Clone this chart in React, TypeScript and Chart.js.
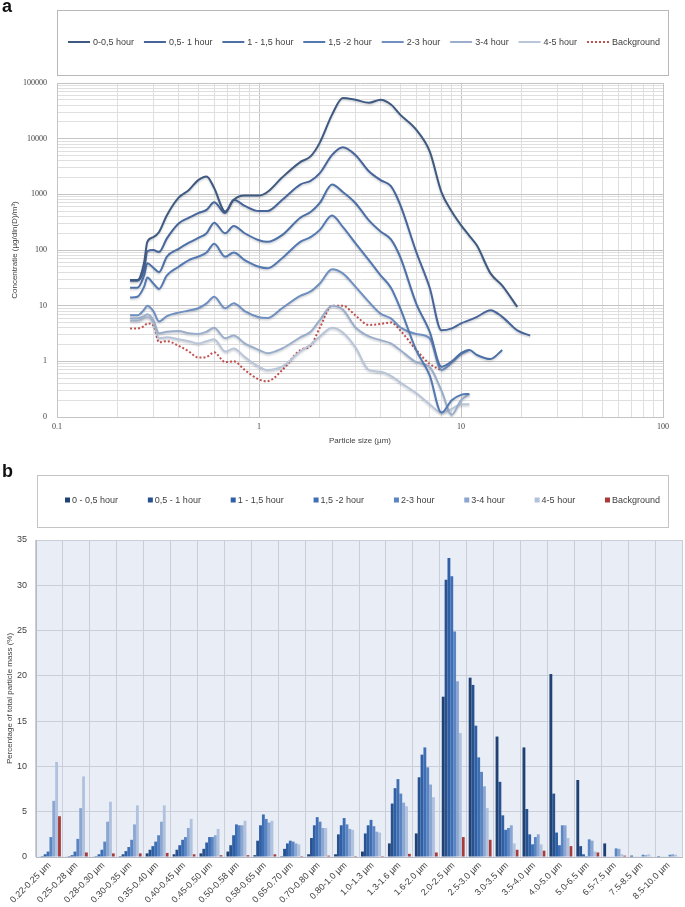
import React, { useEffect, useRef } from 'react';
import { Chart, registerables } from 'chart.js';
Chart.register(...registerables);

// ---------- Chart a: particle size distributions (log-log) ----------
const SIZES = [0.23, 0.25, 0.27, 0.28, 0.30, 0.32, 0.35, 0.40, 0.45, 0.50, 0.55, 0.60, 0.68, 0.75, 0.85, 1.0, 1.1, 1.3, 1.6, 1.8, 2.0, 2.3, 2.6, 3.0, 3.5, 4.0, 4.5, 5.0, 6.0, 7.0, 8.0, 9.0, 10, 11, 12, 14, 16, 19, 22];

const conc0to05 = [29, 29, 60, 140, 170, 210, 420, 870, 1200, 1800, 2100, 1300, 490, 800, 950, 950, 1100, 2000, 3800, 4800, 8500, 27000, 54000, 50000, 44000, 50000, 41000, 27000, 14500, 5900, 1100, 490, 280, 180, 120, 38, 23, 9.5, null];
const conc05to1 = [28, 28, 45, 95, 100, 92, 162, 300, 380, 460, 525, 720, 460, 800, 620, 500, 500, 790, 1500, 1750, 2400, 5100, 7000, 5100, 2600, 1800, 1400, 650, 93, 21, 3.6, 3.9, 4.8, 5.5, 6.3, 8.3, 6.3, 3.6, 2.9];
const conc1to15 = [21, 21, 35, 58, 48, 40, 76, 105, 135, 165, 200, 310, 200, 270, 200, 150, 140, 185, 380, 480, 700, 1500, 1100, 700, 340, 215, 155, 75, 11, 3.4, 0.8, 1.0, 1.4, 1.6, 1.3, 1.1, 1.6, null, null];
const conc15to2 = [14, 14.5, 22, 32, 25, 20, 35, 50, 66, 76, 90, 130, 76, 90, 66, 50, 47, 71, 140, 170, 230, 415, 260, 133, 66, 35, 21, 9, 1.6, 0.56, 0.12, 0.2, 0.25, 0.26, null, null, null, null, null];
const conc2to3 = [6.7, 6.7, 8.5, 10, 8, 5.2, 6.5, 7.5, 8.2, 9, 11, 14.5, 9, 11, 8, 6.2, 6, 9, 15, 18, 25, 45, 38, 22, 11.7, 7.2, 5.9, 4.1, 3.1, 2.6, 0.7, 0.95, 1.35, 1.6, null, null, null, null, null];
const conc3to4 = [5.9, 5.9, 6.5, 7, 5.5, 3.2, 3.4, 3.5, 3.2, 3.1, 3.4, 4.0, 2.6, 2.9, 2.1, 1.6, 1.4, 1.7, 2.7, 3.4, 5.5, 10, 8.5, 4.1, 2.8, 2.4, 2.1, 1.6, 0.97, 0.79, 0.3, 0.11, 0.2, 0.26, null, null, null, null, null];
const conc4to5 = [5.3, 5.3, 6, 6.2, 5, 2.6, 2.7, 2.5, 2.3, 2.1, 2.3, 2.5, 1.5, 1.7, 1.2, 0.8, 0.7, 0.8, 1.5, 2.0, 2.8, 4.0, 3.3, 1.8, 0.7, 0.65, 0.55, 0.42, 0.27, 0.17, 0.12, 0.14, 0.17, 0.17, null, null, null, null, null];
const concBackground = [3.9, 3.9, 4.3, 4.8, 4.4, 2.2, 2.3, 1.9, 1.5, 1.17, 1.2, 1.45, 0.97, 1.0, 0.7, 0.47, 0.44, 0.69, 1.6, 1.9, 4.0, 10, 10, 6.7, 4.5, 4.7, 5.0, 3.6, 1.6, 0.9, 0.69, null, null, null, null, null, null, null, null];

const LINE_LABELS = ['0-0,5 hour', '0,5- 1 hour', '1 - 1,5 hour', '1,5 -2 hour', '2-3 hour', '3-4 hour', '4-5 hour', 'Background'];
const LINE_COLORS = ['#3f5a80', '#47659a', '#4d70a7', '#5479b2', '#6f8fc0', '#9aaecb', '#b9c5d8', '#c0504d'];
const Y_LABELS_A = [0.1, 1, 10, 100, 1000, 10000, 100000];
const X_LABELS_A = [0.1, 1, 10, 100];

// ---------- Chart b: percentage of total particle mass ----------
const CATEGORIES = ['0.22-0.25 µm', '0.25-0.28 µm', '0.28-0.30 µm', '0.30-0.35 µm', '0.35-0.40 µm', '0.40-0.45 µm', '0.45-0.50 µm', '0.50-0.58 µm', '0.58-0.65 µm', '0.65-0.70 µm', '0.70-0.80 µm', '0.80-1.0 µm', '1.0-1.3 µm', '1.3-1.6 µm', '1.6-2.0 µm', '2.0-2.5 µm', '2.5-3.0 µm', '3.0-3.5 µm', '3.5-4.0 µm', '4.0-5.0 µm', '5.0-6.5 µm', '6.5-7.5 µm', '7.5-8.5 µm', '8.5-10.0 µm'];

const pct0to05 = [0.05, 0.05, 0.05, 0.1, 0.4, 0.3, 0.4, 0.6, 0.2, 0.1, 0.3, 0.3, 0.6, 1.5, 2.6, 17.7, 19.8, 13.3, 12.1, 20.2, 8.5, 1.5, 0.15, 0.1];
const pct05to1 = [0.1, 0.1, 0.1, 0.3, 0.8, 0.8, 0.9, 1.3, 1.8, 0.9, 2.1, 2.5, 2.6, 5.9, 8.8, 30.6, 19.0, 8.3, 5.3, 7.0, 1.2, 0.05, 0.05, 0.05];
const pct1to15 = [0.3, 0.2, 0.3, 0.65, 1.2, 1.3, 1.6, 2.4, 3.5, 1.5, 3.5, 3.5, 3.5, 7.6, 11.3, 33.0, 14.5, 4.6, 2.5, 2.7, 0.3, 0.05, 0.05, 0.05];
const pct15to2 = [0.6, 0.6, 0.8, 1.1, 1.7, 1.9, 2.2, 3.6, 4.7, 1.8, 4.4, 4.3, 4.1, 8.6, 12.1, 31.0, 11.0, 3.0, 1.4, 1.3, 0.1, 0.05, 0.05, 0.05];
const pct2to3 = [2.2, 2.0, 1.7, 1.9, 2.4, 2.2, 2.2, 3.5, 4.2, 1.7, 3.9, 3.6, 3.4, 7.0, 9.9, 24.9, 9.4, 3.2, 2.2, 3.5, 1.95, 0.95, 0.25, 0.25];
const pct3to4 = [6.2, 5.4, 3.9, 3.6, 3.9, 3.2, 2.4, 3.5, 3.8, 1.5, 3.2, 3.1, 2.8, 6.0, 8.0, 19.4, 7.8, 3.5, 2.5, 3.5, 1.8, 0.9, 0.2, 0.3];
const pct4to5 = [10.5, 8.9, 6.1, 5.7, 5.7, 4.2, 3.1, 4.0, 4.0, 1.4, 3.2, 3.0, 2.7, 5.6, 6.6, 13.7, 5.4, 1.5, 1.4, 2.1, 0.6, 0.3, 0.3, 0.25];
const pctBackground = [4.5, 0.5, 0.4, 0.4, 0.45, 0.3, 0.2, 0.2, 0.3, 0.1, 0.15, 0.1, 0.1, 0.35, 0.5, 2.2, 1.9, 0.8, 0.7, 1.2, 0.5, 0.15, 0.05, 0.05];

const BAR_LABELS = ['0 - 0,5 hour', '0,5 - 1 hour', '1 - 1,5 hour', '1,5 -2 hour', '2-3 hour', '3-4 hour', '4-5 hour', 'Background'];
const BAR_COLORS = ['#1f4173', '#27518f', '#2f5fa5', '#3e6fb5', '#5a85c2', '#8aa6d1', '#b1c2de', '#a93a3a'];

// ---------- helpers ----------
const SANS = '"Liberation Sans", Arial, sans-serif';
const NARROW = '"Liberation Sans Narrow", "Liberation Sans", Arial, sans-serif';
const SERIF = '"Liberation Serif", "DejaVu Serif", serif';

function logTicks(min: number, max: number) {
  const out: { value: number }[] = [];
  const e0 = Math.round(Math.log10(min));
  const e1 = Math.round(Math.log10(max));
  for (let e = e0; e < e1; e++) {
    for (let m = 1; m <= 9; m++) out.push({ value: parseFloat((m * Math.pow(10, e)).toPrecision(6)) });
  }
  out.push({ value: max });
  return out;
}
const isPow10 = (v: number) => Math.abs(Math.log10(v) - Math.round(Math.log10(v))) < 1e-6;

function makeBoxLegend(cfg: any) {
  return {
    id: 'boxLegend' + cfg.name,
    afterDraw(chart: any) {
      const ctx = chart.ctx;
      const [bx0, by0, bx1, by1] = cfg.box;
      ctx.save();
      ctx.strokeStyle = cfg.border;
      ctx.lineWidth = 1;
      ctx.strokeRect(bx0 + 0.5, by0 + 0.5, bx1 - bx0, by1 - by0);
      ctx.font = cfg.font;
      ctx.textBaseline = 'middle';
      ctx.textAlign = 'left';
      const items = chart.data.datasets.map((ds: any) => ({
        text: ds.label,
        c: cfg.kind === 'line' ? ds.borderColor : ds.backgroundColor,
        dash: ds.borderDash,
      }));
      const widths = items.map((it: any) => cfg.swatch + cfg.swatchGap + ctx.measureText(it.text).width);
      const sum = widths.reduce((a: number, b: number) => a + b, 0);
      const gap = (cfg.span[1] - cfg.span[0] - sum) / (items.length - 1);
      let x = cfg.span[0];
      const y = cfg.y;
      items.forEach((it: any, i: number) => {
        if (cfg.kind === 'line') {
          ctx.save();
          ctx.strokeStyle = it.c;
          ctx.lineWidth = 2;
          ctx.setLineDash(it.dash || []);
          ctx.beginPath();
          ctx.moveTo(x, y);
          ctx.lineTo(x + cfg.swatch, y);
          ctx.stroke();
          ctx.restore();
        } else {
          ctx.fillStyle = it.c;
          ctx.fillRect(x, y - cfg.swatch / 2, cfg.swatch, cfg.swatch);
        }
        ctx.fillStyle = cfg.color;
        ctx.fillText(it.text, x + cfg.swatch + cfg.swatchGap, y + 0.5);
        x += widths[i] + gap;
      });
      ctx.restore();
    },
  };
}

const lineShadow = {
  id: 'lineShadow',
  beforeDatasetDraw(chart: any, args: any) {
    if (args.index === 7) return;
    const ctx = chart.ctx;
    ctx.save();
    ctx.shadowColor = 'rgba(40,50,70,0.22)';
    ctx.shadowBlur = 2;
    ctx.shadowOffsetY = 1.5;
  },
  afterDatasetDraw(chart: any, args: any) {
    if (args.index === 7) return;
    chart.ctx.restore();
  },
};

const plotBg = {
  id: 'plotBg',
  beforeDraw(chart: any) {
    const { ctx, chartArea } = chart;
    ctx.save();
    ctx.fillStyle = '#e9eef6';
    ctx.fillRect(chartArea.left, chartArea.top, chartArea.right - chartArea.left, chartArea.bottom - chartArea.top);
    ctx.restore();
  },
};

export default function App() {
  const refA = useRef<HTMLCanvasElement>(null);
  const refB = useRef<HTMLCanvasElement>(null);

  useEffect(() => {
    const seriesA = [conc0to05, conc05to1, conc1to15, conc15to2, conc2to3, conc3to4, conc4to5, concBackground];
    const chartA = new Chart(refA.current as HTMLCanvasElement, {
      type: 'scatter',
      data: {
        datasets: seriesA.map((vals, i) => ({
          label: LINE_LABELS[i],
          data: SIZES.map((x, j) => ({ x, y: vals[j] })).filter((p) => p.y !== null) as any,
          borderColor: LINE_COLORS[i],
          backgroundColor: LINE_COLORS[i],
          borderWidth: i === 7 ? 2 : 2,
          borderDash: i === 7 ? [2, 2] : [],
          pointRadius: 0,
          showLine: true,
          cubicInterpolationMode: 'monotone',
          fill: false,
        })),
      },
      options: {
        responsive: false,
        devicePixelRatio: 1,
        animation: false,
        layout: { padding: { top: 83, right: 22, left: 0, bottom: 0 } },
        plugins: { legend: { display: false }, tooltip: { enabled: false } },
        scales: {
          x: {
            type: 'logarithmic',
            min: 0.1,
            max: 100,
            afterBuildTicks: (s: any) => { s.ticks = logTicks(0.1, 100); },
            afterFit: (s: any) => { s.height = 38; },
            ticks: {
              autoSkip: false,
              maxRotation: 0,
              padding: 5,
              color: '#404040',
              font: { family: SERIF, size: 8 },
              callback: (v: any) => (X_LABELS_A.some((t) => Math.abs(t - v) < 1e-9) ? String(v) : ''),
            },
            grid: { drawTicks: false, color: (c: any) => (c.tick && isPow10(c.tick.value) ? '#c4c4c4' : '#dfdfdf') },
            border: { color: '#c4c4c4' },
            title: { display: true, text: 'Particle size (µm)', color: '#404040', font: { family: SANS, size: 8 }, padding: { top: 0, bottom: 9 } },
          },
          y: {
            type: 'logarithmic',
            min: 0.1,
            max: 100000,
            afterBuildTicks: (s: any) => { s.ticks = logTicks(0.1, 100000); },
            afterFit: (s: any) => { s.width = 57; },
            ticks: {
              autoSkip: false,
              padding: 10,
              color: '#404040',
              font: { family: SERIF, size: 8 },
              callback: (v: any) => {
                const hit = Y_LABELS_A.find((t) => Math.abs(t - v) < 1e-9);
                if (hit === undefined) return '';
                return hit < 1 ? '0' : String(hit);
              },
            },
            grid: { drawTicks: false, color: (c: any) => (c.tick && isPow10(c.tick.value) ? '#c4c4c4' : '#dfdfdf') },
            border: { color: '#c4c4c4' },
            title: { display: true, text: 'Concentratie (µg/dln(D)/m³)', color: '#404040', font: { family: SANS, size: 8 }, padding: { top: 10, bottom: 0 } },
          },
        },
      } as any,
      plugins: [
        lineShadow,
        makeBoxLegend({ name: 'A', kind: 'line', box: [57, 10, 668, 75], span: [68, 660], y: 42, swatch: 22, swatchGap: 3, font: `9px ${NARROW}`, color: '#404040', border: '#b8b8b8' }),
      ],
    });

    const seriesB = [pct0to05, pct05to1, pct1to15, pct15to2, pct2to3, pct3to4, pct4to5, pctBackground];
    const chartB = new Chart(refB.current as HTMLCanvasElement, {
      type: 'bar',
      data: {
        labels: CATEGORIES,
        datasets: seriesB.map((vals, i) => ({
          label: BAR_LABELS[i],
          data: vals,
          backgroundColor: BAR_COLORS[i],
          borderWidth: 0,
          barPercentage: 1,
          categoryPercentage: 0.85,
        })),
      },
      options: {
        responsive: false,
        devicePixelRatio: 1,
        animation: false,
        layout: { padding: { top: 85, right: 3, left: 0, bottom: 0 } },
        plugins: { legend: { display: false }, tooltip: { enabled: false } },
        scales: {
          x: {
            afterFit: (s: any) => { s.height = 50; },
            ticks: { autoSkip: false, minRotation: 45, maxRotation: 45, padding: 3, color: '#404040', font: { family: SANS, size: 9 } },
            grid: { offset: true, drawTicks: false, color: '#c9ced8' },
            border: { color: '#b5bac4' },
          },
          y: {
            min: 0,
            max: 35,
            afterFit: (s: any) => { s.width = 36; },
            ticks: { stepSize: 5, padding: 9, color: '#404040', font: { family: SANS, size: 9 } },
            grid: { drawTicks: false, color: '#c9ced8' },
            border: { color: '#b5bac4' },
            title: { display: true, text: 'Percentage of total particle mass (%)', color: '#404040', font: { family: SANS, size: 8 }, padding: { top: 5, bottom: 0 } },
          },
        },
      } as any,
      plugins: [
        plotBg,
        makeBoxLegend({ name: 'B', kind: 'box', box: [37, 20, 668, 72], span: [65, 660], y: 45, swatch: 5, swatchGap: 2, font: `9px ${NARROW}`, color: '#404040', border: '#c4c4c4' }),
      ],
    });

    return () => {
      chartA.destroy();
      chartB.destroy();
    };
  }, []);

  return (
    <div style={{ position: 'fixed', left: 0, top: 0, width: 685, height: 907, background: '#ffffff', overflow: 'hidden' }}>
      <canvas ref={refA} width={685} height={455} style={{ position: 'absolute', left: 0, top: 0 }} />
      <canvas ref={refB} width={685} height={452} style={{ position: 'absolute', left: 0, top: 455 }} />
      <div style={{ position: 'absolute', left: 2, top: -3, font: `bold 18px ${SANS}`, lineHeight: '18px', color: '#111' }}>a</div>
      <div style={{ position: 'absolute', left: 2, top: 462, font: `bold 18px ${SANS}`, lineHeight: '18px', color: '#111' }}>b</div>
    </div>
  );
}
